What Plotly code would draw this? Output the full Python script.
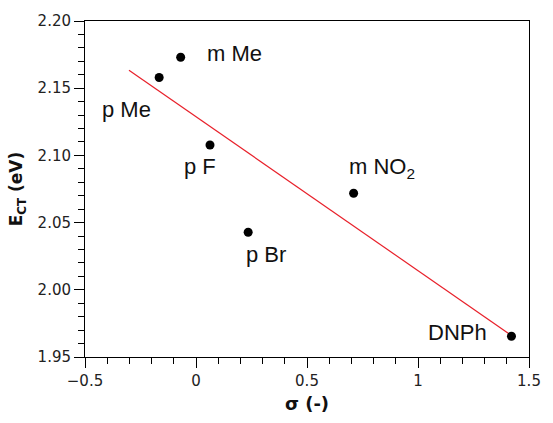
import plotly.graph_objects as go

names = ["p Me", "m Me", "p F", "p Br", "m NO<sub>2</sub>", "DNPh"]
sigma = [-0.166, -0.069, 0.063, 0.235, 0.710, 1.421]
ect = [2.158, 2.173, 2.1077, 2.0428, 2.0718, 1.9654]

fit_x = [-0.302, 1.421]
fit_y = [2.1634, 1.9660]

label_x = [-0.315, 0.175, 0.016, 0.316, 0.840, 1.180]
label_y = [2.1340, 2.1760, 2.0918, 2.0262, 2.0905, 1.9680]

fig = go.Figure()
fig.add_trace(go.Scatter(x=fit_x, y=fit_y, mode="lines",
                         line=dict(color="#e8202a", width=1.2), showlegend=False))
fig.add_trace(go.Scatter(x=sigma, y=ect, mode="markers",
                         marker=dict(color="black", size=9), showlegend=False))

for t, x, y in zip(names, label_x, label_y):
    fig.add_annotation(x=x, y=y, text=t, showarrow=False,
                       font=dict(family="Liberation Sans", size=22, color="#111"),
                       xanchor="center", yanchor="middle")

fig.update_xaxes(range=[-0.5, 1.5], tick0=-0.5, dtick=0.5, tickmode="linear",
                 showline=True, linecolor="black", linewidth=1, mirror=True,
                 ticks="outside", ticklen=10, tickwidth=1.2, tickcolor="black",
                 showgrid=False, zeroline=False,
                 tickfont=dict(family="DejaVu Sans", size=15, color="#222"),
                 minor_ticks="outside", minor_ticklen=6, minor_dtick=0.1,
                 minor_tickcolor="black", minor_tickwidth=1.2,
                 title=dict(text="<b>σ (-)</b>", font=dict(family="DejaVu Sans", size=18, color="#111"), standoff=8))
fig.update_yaxes(range=[1.95, 2.20], tick0=1.95, dtick=0.05, tickmode="linear", tickformat=".2f",
                 showline=True, linecolor="black", linewidth=1, mirror=True,
                 ticks="outside", ticklen=10, tickwidth=1.2, tickcolor="black",
                 showgrid=False, zeroline=False,
                 tickfont=dict(family="DejaVu Sans", size=15, color="#222"),
                 minor_ticks="outside", minor_ticklen=6, minor_dtick=0.01,
                 minor_tickcolor="black", minor_tickwidth=1.2,
                 title=dict(text="<b>E<sub>CT</sub> (eV)</b>", font=dict(family="DejaVu Sans", size=17, color="#111"), standoff=10))

fig.update_layout(width=553, height=423, margin=dict(l=85, r=14, t=20, b=66),
                  plot_bgcolor="white", paper_bgcolor="white")
fig.write_html("out.html")
